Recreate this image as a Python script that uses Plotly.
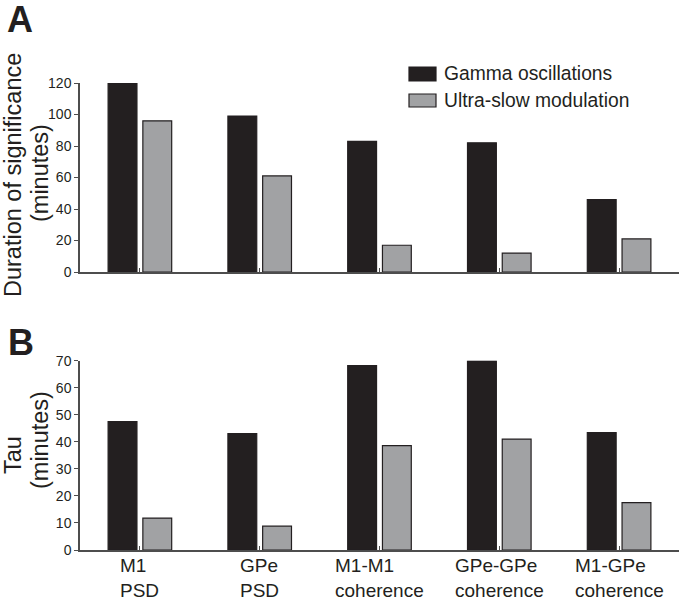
import plotly.graph_objects as go

categories = ["M1-PSD", "GPe-PSD", "M1-M1", "GPe-GPe", "M1-GPe"]
cat_labels = ["M1<br>PSD", "GPe<br>PSD", "M1-M1<br>coherence", "GPe-GPe<br>coherence", "M1-GPe<br>coherence"]
series_names = ["Gamma oscillations", "Ultra-slow modulation"]
duration_gamma = [120, 99, 83, 82, 46]
duration_slow = [96, 61, 17, 12, 21]
tau_gamma = [47.5, 43, 68.2, 70, 43.4]
tau_slow = [11.8, 8.8, 38.6, 41, 17.5]
ticks_a = [0, 20, 40, 60, 80, 100, 120]
ticks_b = [0, 10, 20, 30, 40, 50, 60, 70]

BLACK = "#231f20"
GRAY = "#a1a2a4"
AXC = "#4d4d4d"
FONT = "Liberation Sans, Arial, Helvetica, sans-serif"

W, H = 679, 600
L = 80

def px_x(p):
    return (p - L) / (W - L)

def px_y(p):
    return 1 - p / H

fig = go.Figure()
for xa, ya, g, s in [("x", "y", duration_gamma, duration_slow), ("x2", "y2", tau_gamma, tau_slow)]:
    fig.add_trace(go.Bar(x=categories, y=g, name=series_names[0], xaxis=xa, yaxis=ya,
                         marker=dict(color=BLACK, line=dict(color=BLACK, width=1.2)), showlegend=False))
    fig.add_trace(go.Bar(x=categories, y=s, name=series_names[1], xaxis=xa, yaxis=ya,
                         marker=dict(color=GRAY, line=dict(color=BLACK, width=1.2)), showlegend=False))

xcommon = dict(domain=[0, 1], range=[-0.5, 4.5], showline=True, linecolor=AXC, linewidth=1.5,
               ticks="inside", ticklen=4, tickcolor=AXC, tickwidth=1, showticklabels=False,
               showgrid=False, zeroline=False, type="category", automargin=False)
ycommon = dict(showline=True, linecolor=AXC, linewidth=1.5, ticks="outside", ticklen=4,
               tickcolor=AXC, tickwidth=1, showgrid=False, zeroline=False, automargin=False,
               tickfont=dict(family=FONT, size=14, color=BLACK))

fig.update_layout(
    width=W, height=H, margin=dict(l=L, r=0, t=0, b=0, pad=0, autoexpand=False),
    paper_bgcolor="white", plot_bgcolor="white",
    barmode="group", bargap=0.42, bargroupgap=0.17,
    xaxis=dict(anchor="y", **xcommon),
    xaxis2=dict(anchor="y2", **xcommon),
    yaxis=dict(anchor="x", domain=[px_y(272), px_y(83)], range=[0, 120], tickvals=ticks_a, **ycommon),
    yaxis2=dict(anchor="x2", domain=[px_y(550), px_y(360.7)], range=[0, 70], tickvals=ticks_b, **ycommon),
    font=dict(family=FONT, color=BLACK),
)

shapes = []
annotations = []
legend_items = [(series_names[0], BLACK, 67, 81), (series_names[1], GRAY, 94, 107)]
for name, col, y0, y1 in legend_items:
    shapes.append(dict(type="rect", xref="paper", yref="paper", x0=px_x(409), x1=px_x(436),
                       y0=px_y(y1), y1=px_y(y0), fillcolor=col, line=dict(color=BLACK, width=1.2)))
    annotations.append(dict(text=name, xref="paper", yref="paper", x=px_x(442), y=px_y((y0 + y1) / 2),
                            xanchor="left", yanchor="middle", showarrow=False,
                            font=dict(family=FONT, size=19.3, color=BLACK)))

for c, lab in zip(categories, cat_labels):
    annotations.append(dict(text=lab, xref="x2", yref="paper", x=c, y=px_y(553), xanchor="center",
                            yanchor="top", align="left", showarrow=False,
                            font=dict(family=FONT, size=19, color=BLACK)))

ytitles = [("Duration of significance", 13, 175), ("(minutes)", 40, 173),
           ("Tau", 13, 455), ("(minutes)", 40, 440)]
for t, xc, yc in ytitles:
    annotations.append(dict(text=t, xref="paper", yref="paper", x=px_x(xc), y=px_y(yc), textangle=-90,
                            xanchor="center", yanchor="middle", showarrow=False,
                            font=dict(family=FONT, size=23.5, color=BLACK)))

for letter, xl, yc in [("A", 5, 20), ("B", 6, 342.5)]:
    annotations.append(dict(text="<b>" + letter + "</b>", xref="paper", yref="paper", x=px_x(xl), y=px_y(yc),
                            xanchor="left", yanchor="middle", showarrow=False,
                            font=dict(family=FONT, size=36, color=BLACK)))

fig.update_layout(shapes=shapes, annotations=annotations)
fig.write_html("out.html", config={"displayModeBar": False},
               post_script="document.body.style.margin='0px';document.body.style.overflow='hidden';")
